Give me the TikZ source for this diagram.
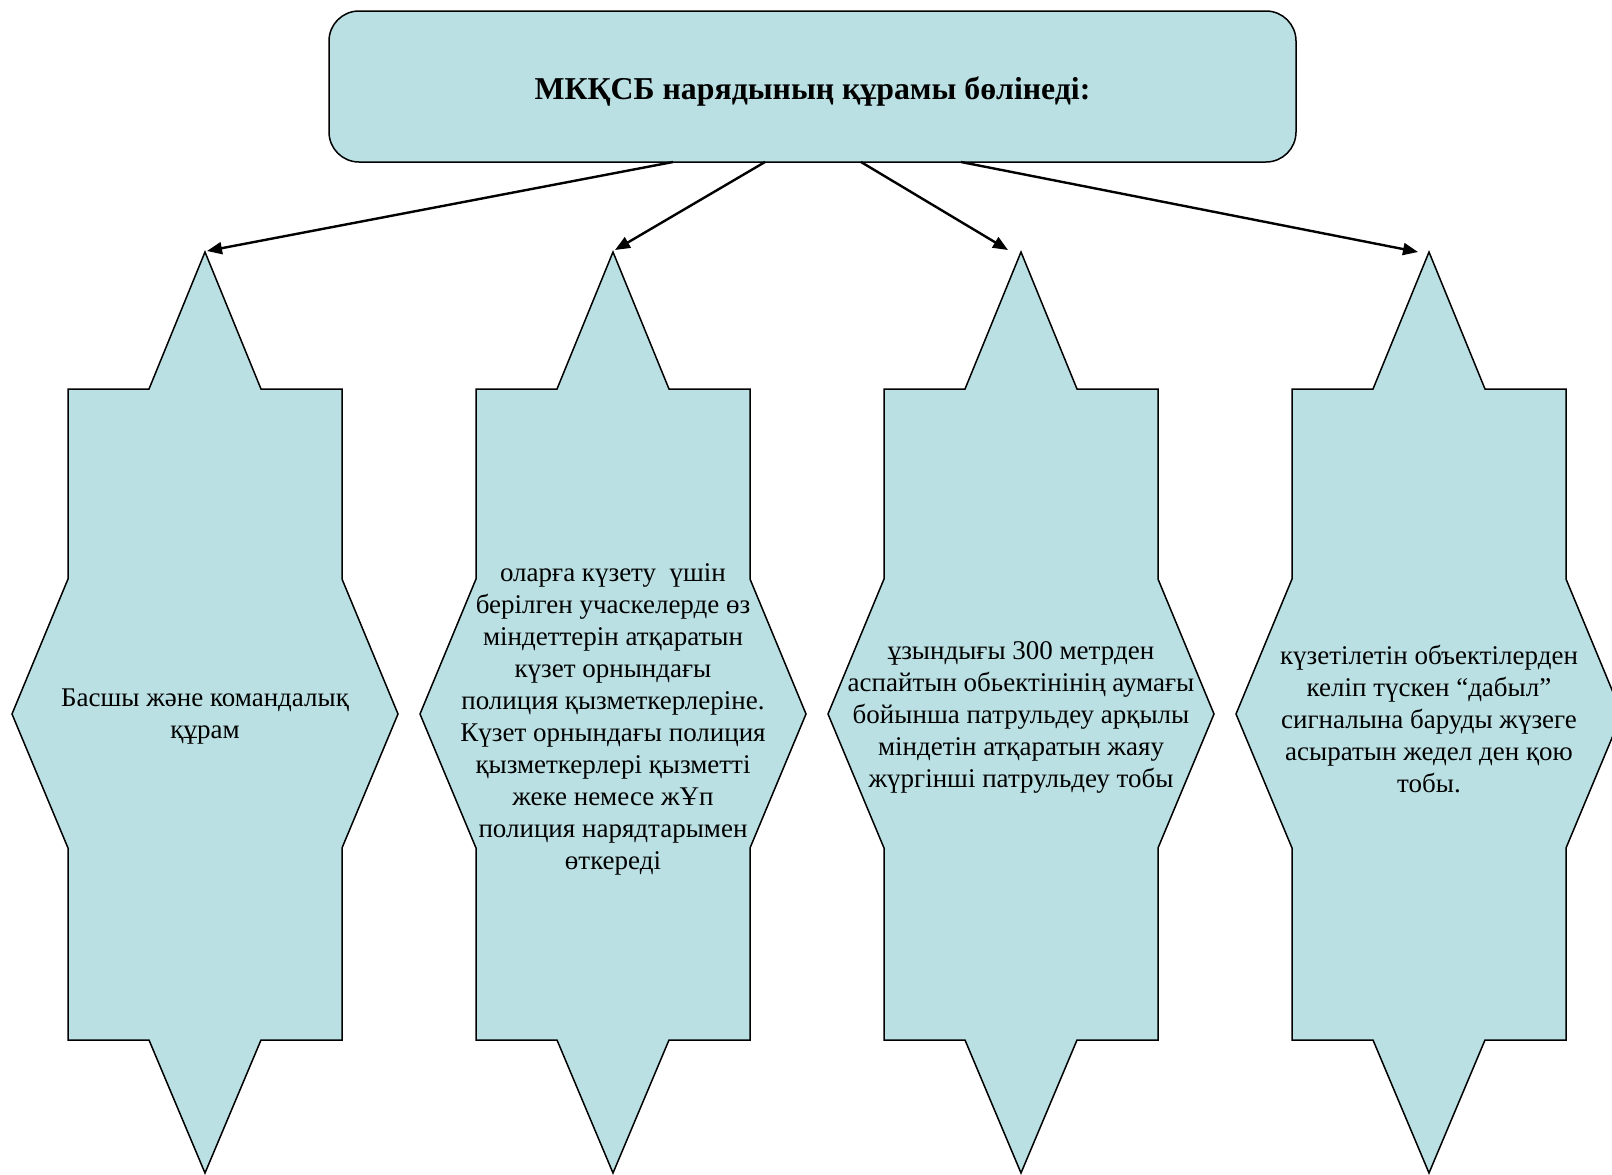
\documentclass[tikz,border=0pt]{standalone}
\usepackage{fontspec}
\setmainfont{Liberation Serif}
\usetikzlibrary{arrows.meta}
\definecolor{shapefill}{HTML}{BAE0E3}
\tikzset{
  starbox/.style={draw=black, line width=1.5pt, fill=shapefill, line join=miter},
  topbox/.style={draw=black, line width=1.5pt, fill=shapefill, rounded corners=30pt},
  bodytext/.style={align=center, font=\fontsize{27}{32}\selectfont, inner sep=0pt},
  titletext/.style={align=center, font=\fontsize{31.8}{36}\selectfont\bfseries, inner sep=0pt},
  conn/.style={draw=black, line width=2.4pt, -{Triangle[length=15pt,width=12pt]}}
}
\newcommand\kzstar[1]{%
  \path[starbox] (#1,252) -- ({#1+56},389) -- ({#1+137},389) -- ({#1+137},579)
    -- ({#1+193},714) -- ({#1+137},848) -- ({#1+137},1040) -- ({#1+56},1040)
    -- (#1,1173) -- ({#1-56},1040) -- ({#1-137},1040) -- ({#1-137},848)
    -- ({#1-193},714) -- ({#1-137},579) -- ({#1-137},389) -- ({#1-56},389) -- cycle;}
\begin{document}
\begin{tikzpicture}[x=1pt,y=-1pt]
\useasboundingbox (0,0) rectangle (1612,1175);
\begin{scope}
\clip (0,0) rectangle (1612,1175);
% top box
\path[topbox] (329,11) rectangle (1296,162);
\node[titletext] (title) at (812.5,92) {МКҚСБ нарядының құрамы бөлінеді:};
% star shapes
\kzstar{205}
\kzstar{613}
\kzstar{1021}
\kzstar{1429}
\end{scope}
\node[bodytext] (t1) at (205,717) {Басшы және командалық\\құрам};
\node[bodytext] (t2) at (613,719) {оларға күзету\ \ үшін\\берілген учаскелерде өз\\міндеттерін атқаратын\\күзет орнындағы\\полиция қызметкерлеріне.\\Күзет орнындағы полиция\\қызметкерлері қызметті\\жеке немесе жҰп\\полиция нарядтарымен\\өткереді};
\node[bodytext] (t3) at (1021,717) {ұзындығы 300 метрден\\аспайтын обьектінінің аумағы\\бойынша патрульдеу арқылы\\міндетін атқаратын жаяу\\жүргінші патрульдеу тобы};
\node[bodytext] (t4) at (1429,719) {күзетілетін объектілерден\\келіп түскен “дабыл”\\сигналына баруды жүзеге\\асыратын жедел ден қою\\тобы.};
% connector endpoints
\coordinate (s1) at (673,162);
\coordinate (s2) at (765,162);
\coordinate (s3) at (861,162);
\coordinate (s4) at (961,162);
\coordinate (e1) at (207,251);
\coordinate (e2) at (615,250);
\coordinate (e3) at (1008,250);
\coordinate (e4) at (1418,252);
\draw[conn] (s1) -- (e1);
\draw[conn] (s2) -- (e2);
\draw[conn] (s3) -- (e3);
\draw[conn] (s4) -- (e4);
\end{tikzpicture}
\end{document}
